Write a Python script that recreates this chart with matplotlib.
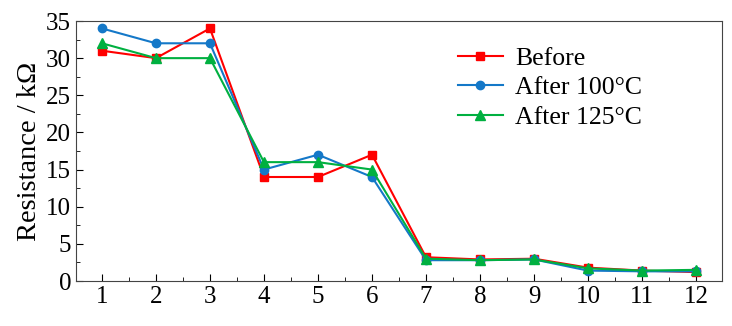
import numpy as np
import matplotlib.pyplot as plt
from matplotlib.ticker import MultipleLocator

plt.rcParams['font.family'] = ['Liberation Serif', 'DejaVu Serif']
plt.rcParams['mathtext.fontset'] = 'stix'

samples = np.arange(1, 13)
before = [31, 30, 34, 14, 14, 17, 3.2, 2.9, 3.0, 1.8, 1.4, 1.2]
after_100 = [34, 32, 32, 15, 17, 14, 2.8, 2.8, 2.9, 1.4, 1.3, 1.3]
after_125 = [32, 30, 30, 16, 16, 15, 3.0, 2.8, 2.9, 1.7, 1.4, 1.5]

fig = plt.figure(figsize=(7.32, 3.26), dpi=100)
ax = fig.add_axes([76 / 732, 45 / 326, 646 / 732, 260 / 326])

ax.plot(samples, before, color='#ff0000', marker='s', ms=6, lw=1.5, label='Before')
ax.plot(samples, after_100, color='#1478c8', marker='o', ms=6, lw=1.5, label='After 100°C')
ax.plot(samples, after_125, color='#00b040', marker='^', ms=6.5, lw=1.5, label='After 125°C')

ax.set_xlim(0.52, 12.48)
ax.set_ylim(0, 35)
ax.set_xticks(samples)
ax.xaxis.set_minor_locator(MultipleLocator(0.5))
ax.yaxis.set_major_locator(MultipleLocator(5))
ax.yaxis.set_minor_locator(MultipleLocator(2.5))
ax.tick_params(which='both', direction='in', labelsize=18, top=False, right=False)
ax.tick_params(which='major', length=5)
ax.tick_params(which='minor', length=3)
for s in ax.spines.values():
    s.set_color('#444444')

ax.set_ylabel('Resistance / kΩ', fontsize=20.5, labelpad=3)
ax.legend(loc='upper left', bbox_to_anchor=(0.555, 0.99), frameon=False, fontsize=18.5,
          handlelength=1.75, labelspacing=0.25, handletextpad=0.5)

fig.savefig('out.png', dpi=100)
